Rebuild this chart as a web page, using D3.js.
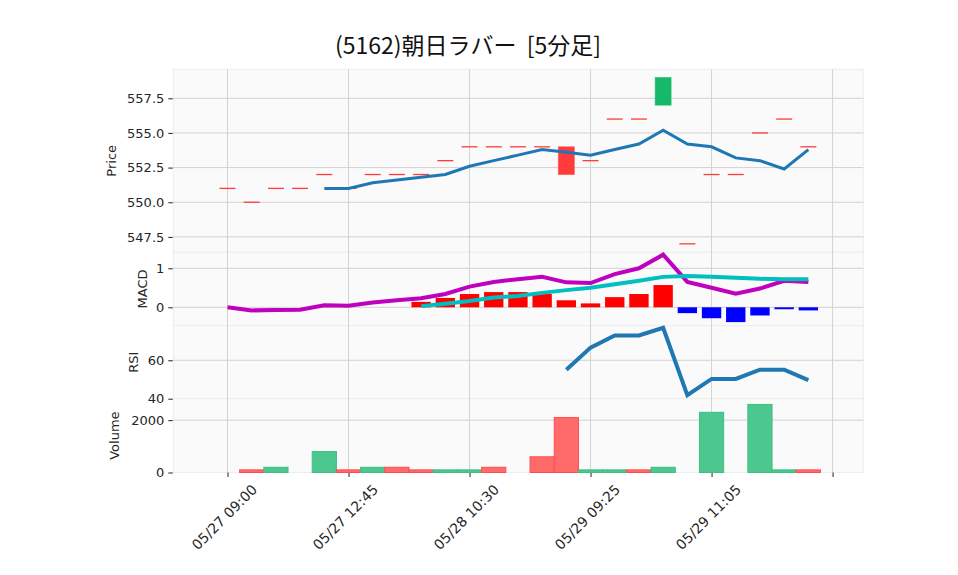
<!DOCTYPE html>
<html><head><meta charset="utf-8">
<script src="https://cdn.jsdelivr.net/npm/d3@7"></script>
<style>body{margin:0;background:#fff}svg{display:block}</style>
</head><body><svg id="c" width="958" height="575"></svg>
<script>
// ---- data ----
const tickLabels = ["05/27 09:00","05/27 12:45","05/28 10:30","05/29 09:25","05/29 11:05",""];
const tickIndex = [0,5,10,15,20,25];
const opens  = [551,550,551,551,552,551,552,552,552,553,554,554,554,554,554,553,556,556,557,547,552,552,555,556,554];
const closes = [551,550,551,551,552,551,552,552,552,553,554,554,554,554,552,553,556,556,559,547,552,552,555,556,554];
const ma5 = [null,null,null,null,551.0,551.0,551.4,551.6,551.8,552.0,552.6,553.0,553.4,553.8,553.6,553.4,553.8,554.2,555.2,554.2,554.0,553.2,553.0,552.4,553.8];
const macd = [0.00,-0.08,-0.07,-0.06,0.05,0.04,0.12,0.18,0.23,0.34,0.53,0.65,0.72,0.78,0.64,0.62,0.85,1.00,1.35,0.65,0.50,0.35,0.48,0.68,0.65];
const signal = [null,null,null,null,null,null,null,null,0.03,0.09,0.16,0.25,0.29,0.37,0.44,0.50,0.59,0.68,0.78,0.80,0.78,0.76,0.73,0.72,0.72];
const hist = [null,null,null,null,null,null,null,null,0.14,0.24,0.34,0.39,0.39,0.34,0.18,0.10,0.26,0.34,0.57,-0.15,-0.28,-0.38,-0.21,-0.05,-0.08];
const rsi = [null,null,null,null,null,null,null,null,null,null,null,null,null,null,55.1,66.6,72.9,72.9,76.9,41.8,50.3,50.3,55.1,55.1,49.7];
const volume = [0,100,200,0,800,100,200,200,100,100,100,200,0,600,2100,100,100,100,200,0,2300,0,2600,100,100];
const priceTicks = [547.5,550,552.5,555,557.5];
const macdTicks = [0,1];
const rsiTicks = [40,60];
const volTicks = [0,2000];

// ---- layout ----
const svg = d3.select("#c");
const FONT = "'DejaVu Sans', sans-serif";
const FS = 13;
const L = 173.3, R = 863.3;
const x = d3.scaleLinear().domain([-2.24, 26.27]).range([L, R]);
const step = x(1) - x(0);
const idx = d3.range(closes.length);

const panels = [
  {name:"Price", top:69.3, bot:252.3, dom:[546.39,559.59], ticks:priceTicks, fmt:d3.format(".1f"), lx:111},
  {name:"MACD", top:252.3, bot:325.7, dom:[-0.472,1.41], ticks:macdTicks, fmt:d3.format("d"), lx:142},
  {name:"RSI", top:325.7, bot:398.7, dom:[40,78.0], ticks:rsiTicks, fmt:d3.format("d"), lx:133},
  {name:"Volume", top:398.7, bot:472.5, dom:[0,2820], ticks:volTicks, fmt:d3.format("d"), lx:114}
];
panels.forEach(p => p.y = d3.scaleLinear().domain(p.dom).range([p.bot, p.top]));
const [pP, pM, pR, pV] = panels;

// backgrounds
panels.forEach(p => {
  svg.append("rect").attr("x", L).attr("y", p.top).attr("width", R - L).attr("height", p.bot - p.top)
    .attr("fill", "#fafafa").attr("stroke", "#ededed").attr("stroke-width", 1);
});
// horizontal grid
panels.forEach(p => {
  p.ticks.forEach(t => {
    const yy = p.y(t);
    if (yy > p.top + 1.5 && yy < p.bot - 1.5) {
      svg.append("line").attr("x1", L).attr("x2", R).attr("y1", yy).attr("y2", yy)
        .attr("stroke", "#d2d2d2").attr("stroke-width", 1);
    }
  });
});
// vertical grid
tickIndex.forEach(i => {
  svg.append("line").attr("x1", x(i)).attr("x2", x(i)).attr("y1", pP.top).attr("y2", pV.bot)
    .attr("stroke", "#d2d2d2").attr("stroke-width", 1);
});

// y axes
panels.forEach(p => {
  const ax = d3.axisLeft(p.y).tickValues(p.ticks).tickFormat(p.fmt).tickSize(4.5).tickPadding(4);
  const g = svg.append("g").attr("transform", `translate(${L - 0.5},0)`).call(ax);
  g.select(".domain").remove();
  g.selectAll("line").attr("stroke", "#222");
  g.selectAll("text").attr("font-family", FONT).attr("font-size", FS).attr("fill", "#262626");
  svg.append("text").attr("transform", `translate(${p.lx},${(p.top + p.bot) / 2}) rotate(-90)`)
    .attr("text-anchor", "middle").attr("dy", "0.35em").attr("font-family", FONT).attr("font-size", FS)
    .attr("fill", "#262626").text(p.name);
});

// x axis
const xa = d3.axisBottom(x).tickValues(tickIndex).tickFormat((d, k) => tickLabels[k]).tickSize(4.5).tickPadding(3);
const gx = svg.append("g").attr("transform", `translate(0,${pV.bot})`).call(xa);
gx.select(".domain").remove();
gx.selectAll("line").attr("stroke", "#222");
gx.selectAll("text").attr("font-family", FONT).attr("font-size", 14).attr("fill", "#262626")
  .attr("text-anchor", "end").attr("x", 0).attr("y", 0).attr("dy", 0)
  .attr("transform", "translate(30,18) rotate(-45)");

// ---- price panel ----
const cw = step * 0.66;
idx.forEach(i => {
  const o = opens[i], c = closes[i];
  const up = c > o;
  const col = up ? "#16b86a" : "#ff3b3b";
  const y1 = pP.y(Math.max(o, c)), y2 = pP.y(Math.min(o, c));
  if (y2 - y1 < 1) {
    svg.append("line").attr("x1", x(i) - cw / 2).attr("x2", x(i) + cw / 2).attr("y1", y1).attr("y2", y1)
      .attr("stroke", col).attr("stroke-width", 1.3);
  } else {
    svg.append("rect").attr("x", x(i) - cw / 2).attr("y", y1).attr("width", cw).attr("height", y2 - y1)
      .attr("fill", col).attr("stroke", col).attr("stroke-opacity", 0.5).attr("stroke-width", 1);
  }
});
const lineGen = (ys) => d3.line().defined(i => ys.arr[i] !== null).x(i => x(i)).y(i => ys.sc(ys.arr[i]));
svg.append("path").attr("d", lineGen({arr: ma5, sc: pP.y})(idx)).attr("fill", "none")
  .attr("stroke", "#1f77b4").attr("stroke-width", 3);

// ---- MACD panel ----
const hw = step * 0.8;
idx.forEach(i => {
  if (hist[i] === null) return;
  const y0 = pM.y(0), yv = pM.y(hist[i]);
  svg.append("rect").attr("x", x(i) - hw / 2).attr("y", Math.min(y0, yv)).attr("width", hw)
    .attr("height", Math.abs(yv - y0)).attr("fill", hist[i] >= 0 ? "#ff0000" : "#0000ff");
});
svg.append("path").attr("d", lineGen({arr: macd, sc: pM.y})(idx)).attr("fill", "none")
  .attr("stroke", "#bf00bf").attr("stroke-width", 4);
svg.append("path").attr("d", lineGen({arr: signal, sc: pM.y})(idx)).attr("fill", "none")
  .attr("stroke", "#00bfbf").attr("stroke-width", 4);

// ---- RSI panel ----
svg.append("path").attr("d", lineGen({arr: rsi, sc: pR.y})(idx)).attr("fill", "none")
  .attr("stroke", "#1f77b4").attr("stroke-width", 4);

// ---- Volume panel ----
idx.forEach(i => {
  if (!volume[i]) return;
  const up = i > 0 && closes[i] > closes[i - 1];
  const y0 = pV.y(0), yv = pV.y(volume[i]);
  svg.append("rect").attr("x", x(i) - step / 2).attr("y", yv).attr("width", step).attr("height", y0 - yv)
    .attr("fill", up ? "#4bc78f" : "#ff6b6b").attr("stroke", up ? "#3dbf84" : "#ff4d4d").attr("stroke-width", 1);
});

// title
svg.append("text").attr("x", 468).attr("y", 54).attr("text-anchor", "middle")
  .attr("font-family", "'Noto Sans CJK JP', sans-serif").attr("font-size", 23).attr("fill", "#111")
  .text("(5162)朝日ラバー\u00a0\u00a0[5分足]");
</script></body></html>
